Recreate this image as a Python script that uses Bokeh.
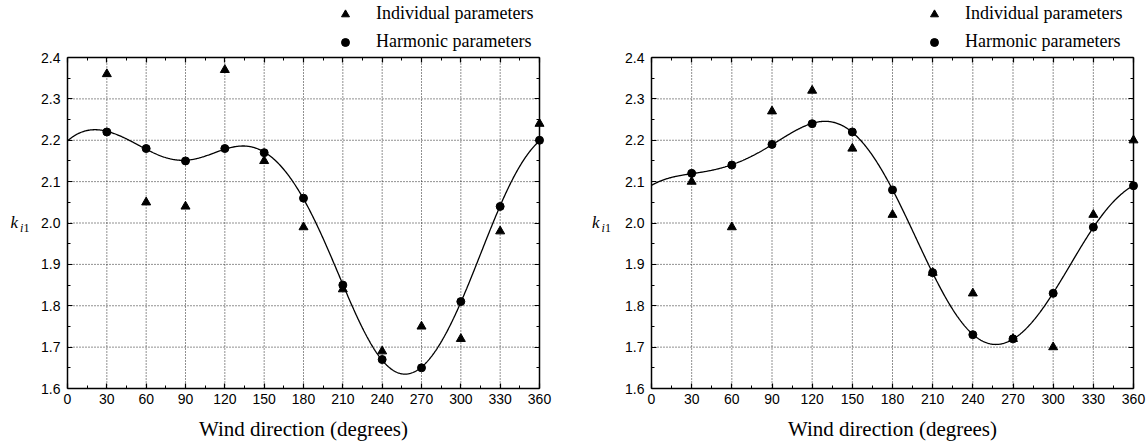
import numpy as np
from bokeh.plotting import figure
from bokeh.layouts import row
from bokeh.models import (FixedTicker, Range1d, LinearAxis, Legend, LegendItem,
                          Label, CustomJSTickFormatter, PrintfTickFormatter)
from bokeh.embed import file_html
from bokeh.resources import INLINE

# Wind direction sectors (degrees)
angles = [30, 60, 90, 120, 150, 180, 210, 240, 270, 300, 330, 360]

# Shape parameter k_i1, first site
left_individual = [2.36, 2.05, 2.04, 2.37, 2.15, 1.99, 1.84, 1.69, 1.75, 1.72, 1.98, 2.24]
left_harmonic = [2.22, 2.18, 2.15, 2.18, 2.17, 2.06, 1.85, 1.67, 1.65, 1.81, 2.04, 2.20]

# Shape parameter k_i1, second site
right_individual = [2.10, 1.99, 2.27, 2.32, 2.18, 2.02, 1.88, 1.83, 1.72, 1.70, 2.02, 2.20]
right_harmonic = [2.12, 2.14, 2.19, 2.24, 2.22, 2.08, 1.88, 1.73, 1.72, 1.83, 1.99, 2.09]

x_ticks = list(range(0, 361, 30))
x_minor = list(range(15, 360, 30))
y_ticks = [1.6, 1.7, 1.8, 1.9, 2.0, 2.1, 2.2, 2.3, 2.4]
y_minor = [1.65, 1.75, 1.85, 1.95, 2.05, 2.15, 2.25, 2.35]

X_LO, X_HI = 0, 360
Y_LO, Y_HI = 1.6, 2.4

HARMONIC_ORDER = 5
H = 444          # canvas height (px)
BOX_TOP = 57     # plot box top edge (px from top)
BOX_BOTTOM = 388 # plot box bottom edge (px from top)


def harmonic_curve(deg, vals, order=HARMONIC_ORDER):
    """Least-squares Fourier series through the harmonic values."""
    th = np.radians(np.asarray(deg, dtype=float))
    cols = [np.ones_like(th)]
    for k in range(1, order + 1):
        cols += [np.cos(k * th), np.sin(k * th)]
    A = np.column_stack(cols)
    coef, *_ = np.linalg.lstsq(A, np.asarray(vals, dtype=float), rcond=None)
    xs = np.linspace(X_LO, X_HI, 721)
    t = np.radians(xs)
    ys = coef[0] * np.ones_like(t)
    for k in range(1, order + 1):
        ys += coef[2 * k - 1] * np.cos(k * t) + coef[2 * k] * np.sin(k * t)
    return xs, ys


def style_axis(ax, ticker, show_labels=True):
    ax.ticker = ticker
    ax.major_tick_in = 5
    ax.major_tick_out = 0
    ax.minor_tick_in = 3
    ax.minor_tick_out = 0
    ax.axis_line_width = 1.5
    ax.axis_line_color = "black"
    ax.major_tick_line_color = "black"
    ax.minor_tick_line_color = "black"
    ax.major_tick_line_width = 1.2
    ax.minor_tick_line_width = 1.0
    if show_labels:
        ax.major_label_text_font = "Liberation Sans"
        ax.major_label_text_font_size = "14px"
        ax.major_label_text_color = "black"
    else:
        ax.formatter = CustomJSTickFormatter(code="return ''")
        ax.major_label_standoff = 0


def make_panel(individual, harmonic, width, box_left, box_width,
               legend_left, k_left, sub_left):
    # The canvas itself is the frame; the plot box sits inside it and
    # the axes are pinned to the box edges.
    sx = (X_HI - X_LO) / box_width
    sy = (Y_HI - Y_LO) / (BOX_BOTTOM - BOX_TOP)
    x_start = X_LO - box_left * sx
    x_end = X_LO + (width - box_left) * sx
    y_end = Y_HI + BOX_TOP * sy
    y_start = Y_LO - (H - BOX_BOTTOM) * sy

    def px_x(px):
        return x_start + px * sx

    def px_y(py):
        return y_end - py * sy

    p = figure(width=width, height=H,
               x_range=Range1d(x_start, x_end), y_range=Range1d(y_start, y_end),
               output_backend="svg", toolbar_location=None,
               min_border_left=0, min_border_right=0,
               min_border_top=0, min_border_bottom=0,
               background_fill_color="white", border_fill_color="white",
               outline_line_color=None)
    p.grid.visible = False

    bottom = p.xaxis[0]
    style_axis(bottom, FixedTicker(ticks=x_ticks, minor_ticks=x_minor))
    bottom.fixed_location = Y_LO
    bottom.bounds = (X_LO, X_HI)
    bottom.major_label_standoff = 5
    bottom.axis_label = "Wind direction (degrees)"
    bottom.axis_label_text_font = "Liberation Serif"
    bottom.axis_label_text_font_size = "21px"
    bottom.axis_label_text_font_style = "normal"
    bottom.axis_label_text_color = "black"
    bottom.axis_label_standoff = 10

    left = p.yaxis[0]
    style_axis(left, FixedTicker(ticks=y_ticks, minor_ticks=y_minor))
    left.fixed_location = X_LO
    left.bounds = (Y_LO, Y_HI)
    left.formatter = PrintfTickFormatter(format="%.1f")
    left.major_label_standoff = 7

    top = LinearAxis(fixed_location=Y_HI, bounds=(X_LO, X_HI))
    style_axis(top, FixedTicker(ticks=x_ticks, minor_ticks=x_minor), show_labels=False)
    p.add_layout(top, "above")
    right = LinearAxis(fixed_location=X_HI, bounds=(Y_LO, Y_HI))
    style_axis(right, FixedTicker(ticks=y_ticks, minor_ticks=y_minor), show_labels=False)
    p.add_layout(right, "right")

    # dotted grid inside the box, at the inner major ticks
    gx = x_ticks[1:-1]
    gy = y_ticks[1:-1]
    p.segment(x0=gx, y0=[Y_LO] * len(gx), x1=gx, y1=[Y_HI] * len(gx),
              line_color="#222222", line_dash="1 2", line_width=1, level="underlay")
    p.segment(x0=[X_LO] * len(gy), y0=gy, x1=[X_HI] * len(gy), y1=gy,
              line_color="#222222", line_dash="1 2", line_width=1, level="underlay")

    xs, ys = harmonic_curve(angles, harmonic)
    p.line(xs, ys, line_color="black", line_width=1.3)

    tri = p.scatter(angles, individual, marker="triangle", size=9,
                    fill_color="black", line_color="black")
    circ = p.scatter(angles, harmonic, marker="circle", size=8,
                     fill_color="black", line_color="black")

    legend = Legend(items=[LegendItem(label="Individual parameters", renderers=[tri]),
                           LegendItem(label="Harmonic parameters", renderers=[circ])],
                    location=(legend_left, H - 5 - 47), orientation="vertical",
                    border_line_color=None, background_fill_alpha=0,
                    padding=0, margin=0, spacing=7,
                    glyph_width=22, glyph_height=20, label_height=20,
                    label_standoff=20,
                    label_text_font="Liberation Serif", label_text_font_size="18px",
                    label_text_color="black")
    p.add_layout(legend)

    # axis symbol k with subscript i1
    p.add_layout(Label(x=px_x(k_left), y=px_y(222), text="k",
                       text_font="Liberation Serif", text_font_style="italic",
                       text_font_size="17px", text_color="black",
                       text_baseline="alphabetic"))
    p.add_layout(Label(x=px_x(sub_left), y=px_y(227), text="i",
                       text_font="Liberation Serif", text_font_style="italic",
                       text_font_size="12px", text_color="black",
                       text_baseline="alphabetic"))
    p.add_layout(Label(x=px_x(sub_left + 3.5), y=px_y(227), text="1",
                       text_font="Liberation Serif", text_font_style="normal",
                       text_font_size="12px", text_color="black",
                       text_baseline="alphabetic"))
    return p


p1 = make_panel(left_individual, left_harmonic, 575, 67, 472, 334, 10, 19.5)
p2 = make_panel(right_individual, right_harmonic, 572, 76, 482, 348, 16.5, 26)

layout = row(p1, p2)
open("out.html", "w").write(file_html(layout, INLINE))
